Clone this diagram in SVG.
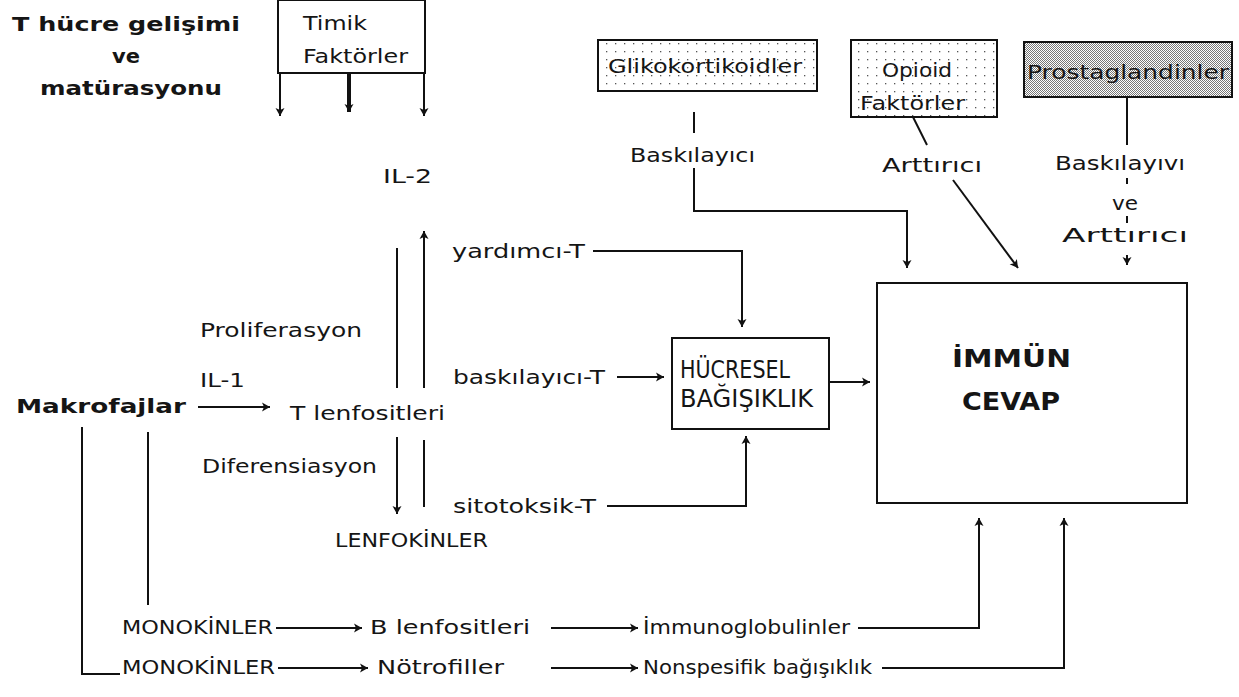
<svg xmlns="http://www.w3.org/2000/svg" width="1239" height="697" viewBox="0 0 1239 697">
<style>
text{font-family:"DejaVu Sans","Liberation Sans",sans-serif;fill:#151515;font-size:19px}
.b{font-weight:bold}
.big{font-size:24px}
.ln{fill:none;stroke:#111;stroke-width:2}
.thick{stroke-width:4}
.box{fill:#fff;stroke:#111;stroke-width:2}
</style>
<defs>
<marker id="ah" viewBox="-3 -6 12 12" markerWidth="12" markerHeight="12" refX="7" refY="0" orient="auto" markerUnits="userSpaceOnUse">
<path d="M-1,-4.5 L7,0 L-1,4.5 L1,0 z" fill="#111"/>
</marker>
<pattern id="sparse" width="9" height="8" patternUnits="userSpaceOnUse">
<rect width="9" height="8" fill="#fff"/>
<rect x="3" y="3" width="1.3" height="1.3" fill="#555"/>
</pattern>
<pattern id="dense" width="2" height="2" patternUnits="userSpaceOnUse">
<rect width="2" height="2" fill="#fff"/>
<rect x="0" y="0" width="1" height="1" fill="#777"/>
<rect x="1" y="1" width="1" height="1" fill="#777"/>
</pattern>
</defs>
<rect width="1239" height="697" fill="#fff"/>

<g id="title">
<text class="b" x="12" y="31" textLength="228" lengthAdjust="spacingAndGlyphs">T hücre gelişimi</text>
<text class="b" x="112" y="63" textLength="28" lengthAdjust="spacingAndGlyphs">ve</text>
<text class="b" x="40" y="95" textLength="182" lengthAdjust="spacingAndGlyphs">matürasyonu</text>
</g>

<g id="timik">
<rect class="box" x="278" y="0" width="147" height="73"/>
<text x="303" y="30" textLength="64" lengthAdjust="spacingAndGlyphs">Timik</text>
<text x="303" y="63" textLength="105" lengthAdjust="spacingAndGlyphs">Faktörler</text>
</g>

<g id="glikokortikoidler">
<rect x="598" y="40" width="219" height="51" fill="url(#sparse)" stroke="#111" stroke-width="2"/>
<text x="608" y="73" textLength="194" lengthAdjust="spacingAndGlyphs">Glikokortikoidler</text>
</g>

<g id="opioid">
<rect x="851" y="40" width="146" height="77" fill="url(#sparse)" stroke="#111" stroke-width="2"/>
<text x="882" y="77" textLength="70" lengthAdjust="spacingAndGlyphs">Opioid</text>
<text x="860" y="110" textLength="105" lengthAdjust="spacingAndGlyphs">Faktörler</text>
</g>

<g id="prostaglandinler">
<rect x="1024" y="42" width="208" height="55" fill="url(#dense)" stroke="#111" stroke-width="2"/>
<text x="1027" y="79" textLength="202" lengthAdjust="spacingAndGlyphs">Prostaglandinler</text>
</g>

<g id="labels">
<text x="383" y="183" textLength="49" lengthAdjust="spacingAndGlyphs">IL-2</text>
<text x="630" y="162" textLength="125" lengthAdjust="spacingAndGlyphs">Baskılayıcı</text>
<text x="882" y="172" textLength="100" lengthAdjust="spacingAndGlyphs">Arttırıcı</text>
<text x="1055" y="170" textLength="130" lengthAdjust="spacingAndGlyphs">Baskılayıvı</text>
<text x="1112" y="210" textLength="26" lengthAdjust="spacingAndGlyphs">ve</text>
<text x="1062" y="242" textLength="126" lengthAdjust="spacingAndGlyphs">Arttırıcı</text>
<text x="452" y="258" textLength="133" lengthAdjust="spacingAndGlyphs">yardımcı-T</text>
<text x="200" y="337" textLength="162" lengthAdjust="spacingAndGlyphs">Proliferasyon</text>
<text x="200" y="387" textLength="45" lengthAdjust="spacingAndGlyphs">IL-1</text>
<text x="453" y="384" textLength="152" lengthAdjust="spacingAndGlyphs">baskılayıcı-T</text>
<text x="202" y="473" textLength="175" lengthAdjust="spacingAndGlyphs">Diferensiasyon</text>
<text x="453" y="513" textLength="143" lengthAdjust="spacingAndGlyphs">sitotoksik-T</text>
</g>

<g id="makrofajlar">
<text class="b" x="16" y="413" textLength="170" lengthAdjust="spacingAndGlyphs">Makrofajlar</text>
</g>
<g id="t-lenfositleri">
<text x="290" y="420" textLength="155" lengthAdjust="spacingAndGlyphs">T lenfositleri</text>
</g>
<g id="lenfokinler">
<text x="335" y="547" textLength="153" lengthAdjust="spacingAndGlyphs">LENFOKİNLER</text>
</g>

<g id="hucresel">
<rect class="box" x="672" y="338" width="157" height="91"/>
<text class="big" x="680" y="378" textLength="110" lengthAdjust="spacingAndGlyphs">HÜCRESEL</text>
<text class="big" x="680" y="407" textLength="133" lengthAdjust="spacingAndGlyphs">BAĞIŞIKLIK</text>
</g>

<g id="immun-cevap">
<rect class="box" x="877" y="283" width="310" height="220"/>
<text class="b big" x="952" y="367" textLength="119" lengthAdjust="spacingAndGlyphs">İMMÜN</text>
<text class="b big" x="962" y="410" textLength="98" lengthAdjust="spacingAndGlyphs">CEVAP</text>
</g>

<g id="row1">
<text x="122" y="634" textLength="151" lengthAdjust="spacingAndGlyphs">MONOKİNLER</text>
<text x="370" y="634" textLength="160" lengthAdjust="spacingAndGlyphs">B lenfositleri</text>
<text x="643" y="634" textLength="207" lengthAdjust="spacingAndGlyphs">İmmunoglobulinler</text>
</g>
<g id="row2">
<text x="122" y="674" textLength="153" lengthAdjust="spacingAndGlyphs">MONOKİNLER</text>
<text x="377" y="674" textLength="127" lengthAdjust="spacingAndGlyphs">Nötrofiller</text>
<text x="643" y="674" textLength="229" lengthAdjust="spacingAndGlyphs">Nonspesifik bağışıklık</text>
</g>

<g id="connectors">
<path class="ln" d="M280,73 V116" marker-end="url(#ah)"/>
<path class="ln thick" d="M349,73 V112" marker-end="url(#ah)"/>
<path class="ln" d="M424,73 V116" marker-end="url(#ah)"/>
<path class="ln" d="M694,112 V133"/>
<path class="ln" d="M694,168 V211 H907 V268" marker-end="url(#ah)"/>
<path class="ln" d="M913,117 L927,145"/>
<path class="ln" d="M953,180 L1018,268" marker-end="url(#ah)"/>
<path class="ln" d="M1127,97 V145"/>
<path class="ln" d="M1127,178 V184"/>
<path class="ln" d="M1127,216 V223"/>
<path class="ln" d="M1127,255 V265" marker-end="url(#ah)"/>
<path class="ln" d="M397,248 V388"/>
<path class="ln" d="M424,388 V231" marker-end="url(#ah)"/>
<path class="ln" d="M397,437 V514" marker-end="url(#ah)"/>
<path class="ln" d="M424,440 V507"/>
<path class="ln" d="M198,407 H270" marker-end="url(#ah)"/>
<path class="ln" d="M593,251 H742 V327" marker-end="url(#ah)"/>
<path class="ln" d="M617,377 H664" marker-end="url(#ah)"/>
<path class="ln" d="M829,382 H870" marker-end="url(#ah)"/>
<path class="ln" d="M607,506 H746 V436" marker-end="url(#ah)"/>
<path class="ln" d="M82,427 V674 H120"/>
<path class="ln" d="M148,432 V605"/>
<path class="ln" d="M276,628 H362" marker-end="url(#ah)"/>
<path class="ln" d="M551,628 H638" marker-end="url(#ah)"/>
<path class="ln" d="M858,628 H979 V518" marker-end="url(#ah)"/>
<path class="ln" d="M278,668 H368" marker-end="url(#ah)"/>
<path class="ln" d="M551,668 H638" marker-end="url(#ah)"/>
<path class="ln" d="M882,668 H1064 V518" marker-end="url(#ah)"/>
</g>
</svg>
